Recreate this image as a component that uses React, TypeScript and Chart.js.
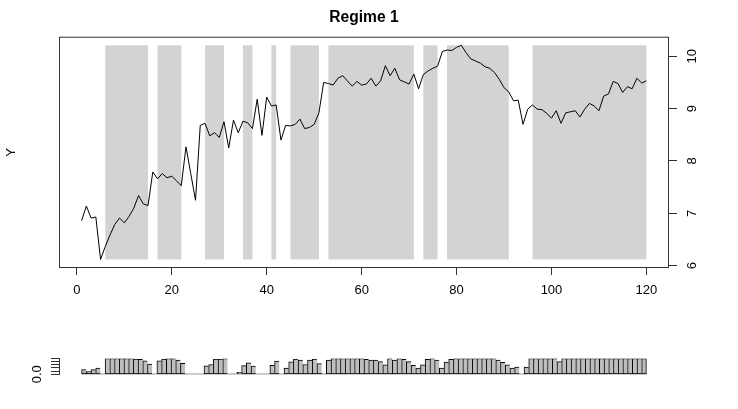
import React, { useEffect, useRef } from 'react';
import { Chart, registerables } from 'chart.js';

Chart.register(...registerables);

const FONT = '"Liberation Sans", Arial, Helvetica, sans-serif';

// ---- data ----
const seriesY = [
  6.86, 7.14, 6.91, 6.93, 6.12, 6.37, 6.59, 6.79, 6.91, 6.82,
  6.94, 7.10, 7.34, 7.18, 7.15, 7.79, 7.66, 7.76, 7.68, 7.71,
  7.62, 7.53, 8.27, 7.76, 7.25, 8.68, 8.72, 8.48, 8.54, 8.45,
  8.75, 8.25, 8.78, 8.54, 8.76, 8.73, 8.62, 9.18, 8.49, 9.22,
  9.05, 9.07, 8.40, 8.68, 8.67, 8.70, 8.80, 8.62, 8.64, 8.70,
  8.92, 9.50, 9.48, 9.45, 9.58, 9.63, 9.53, 9.43, 9.52, 9.45,
  9.47, 9.58, 9.43, 9.53, 9.82, 9.63, 9.77, 9.55, 9.51, 9.47,
  9.66, 9.38, 9.65, 9.72, 9.77, 9.81, 10.09, 10.12, 10.11, 10.17,
  10.21, 10.07, 9.95, 9.91, 9.87, 9.80, 9.77, 9.69, 9.56, 9.40,
  9.32, 9.15, 9.16, 8.70, 8.99, 9.07, 8.99, 8.98, 8.91, 8.82,
  8.96, 8.72, 8.92, 8.94, 8.96, 8.84, 8.99, 9.10, 9.05, 8.96,
  9.24, 9.28, 9.52, 9.48, 9.31, 9.42, 9.38, 9.58, 9.49, 9.53,
];

const regimeProb = [
  0.30, 0.17, 0.30, 0.40, 0.00, 1.00, 1.00, 1.00, 1.00, 1.00,
  1.00, 0.97, 0.95, 0.85, 0.65, 0.00, 0.85, 0.97, 1.00, 1.00,
  0.90, 0.70, 0.00, 0.00, 0.00, 0.00, 0.53, 0.62, 0.96, 0.96,
  1.00, 0.00, 0.00, 0.12, 0.55, 0.72, 0.52, 0.00, 0.00, 0.00,
  0.57, 0.83, 0.00, 0.40, 0.79, 0.96, 0.90, 0.62, 0.90, 0.96,
  0.68, 0.05, 0.90, 1.00, 1.00, 1.00, 1.00, 1.00, 1.00, 1.00,
  0.95, 0.90, 0.90, 0.80, 0.60, 1.00, 0.90, 1.00, 0.95, 0.80,
  0.57, 0.40, 0.60, 0.95, 1.00, 0.90, 0.40, 0.78, 0.95, 1.00,
  1.00, 1.00, 1.00, 1.00, 1.00, 1.00, 1.00, 1.00, 0.90, 0.75,
  0.60, 0.40, 0.45, 0.00, 0.45, 1.00, 1.00, 1.00, 1.00, 1.00,
  1.00, 0.80, 1.00, 1.00, 1.00, 1.00, 1.00, 1.00, 1.00, 1.00,
  1.00, 1.00, 1.00, 1.00, 1.00, 1.00, 1.00, 1.00, 1.00, 1.00,
];

const regimeStart = [6, 17, 27, 35, 41, 45, 53, 73, 78, 96];
const regimeEnd = [15, 22, 31, 37, 42, 51, 71, 76, 91, 120];

const xTicks = [0, 20, 40, 60, 80, 100, 120];
const yTicks = [6, 7, 8, 9, 10];
const probTicks = [0, 0.2, 0.4, 0.6, 0.8, 1.0];
const probTickLabels = ['0.0', '', '', '', '', ''];

const N = seriesY.length;
const timeIndex = seriesY.map((_, i) => i + 1);

const W = 738;
const MAIN_H = 310;
const SUB_H = 99;

const shadePlugin = {
  id: 'shade',
  beforeDatasetsDraw(chart: any) {
    const { ctx, scales } = chart;
    const x = scales.x;
    const y = scales.y;
    const lo = Math.min(...seriesY);
    const hi = Math.max(...seriesY);
    const yTop = y.getPixelForValue(hi);
    const yBot = y.getPixelForValue(lo);
    ctx.save();
    ctx.fillStyle = '#d3d3d3';
    regimeStart.forEach((s, k) => {
      const x0 = x.getPixelForValue(s);
      const x1 = x.getPixelForValue(regimeEnd[k]);
      ctx.fillRect(x0, yTop, x1 - x0, yBot - yTop);
    });
    ctx.restore();
  },
};

const framePlugin = {
  id: 'frame',
  afterDraw(chart: any) {
    const { ctx, chartArea } = chart;
    const { left, top, right, bottom } = chartArea;
    ctx.save();
    ctx.strokeStyle = '#333';
    ctx.lineWidth = 1;
    ctx.strokeRect(left + 0.5, top + 0.5, right - left - 1, bottom - top - 1);
    ctx.restore();
  },
};

function MainChart() {
  const ref = useRef<HTMLCanvasElement>(null);
  useEffect(() => {
    if (!ref.current) return;
    const lo = Math.min(...seriesY);
    const hi = Math.max(...seriesY);
    const yPad = (hi - lo) * 0.04;
    const xPad = (N - 1) * 0.04;
    const chart = new Chart(ref.current, {
      type: 'line',
      data: {
        datasets: [
          {
            data: timeIndex.map((t, i) => ({ x: t, y: seriesY[i] })),
            borderColor: '#000',
            borderWidth: 1,
            pointRadius: 0,
            tension: 0,
            xAxisID: 'x',
            yAxisID: 'y',
          },
        ],
      },
      options: {
        animation: false,
        responsive: false,
        devicePixelRatio: 1,
        layout: { padding: { left: 0, right: 0, top: 0, bottom: 0 } },
        plugins: {
          legend: { display: false },
          tooltip: { enabled: false },
          title: {
            display: true,
            fullSize: false,
            text: 'Regime 1',
            color: '#000',
            font: { family: FONT, size: 15.6, weight: 'bold' },
            padding: { top: 8.5, bottom: 9.5 },
          },
        },
        scales: {
          x: {
            type: 'linear',
            position: 'bottom',
            min: 1 - xPad,
            max: N + xPad,
            afterBuildTicks: (s: any) => {
              s.ticks = xTicks.map((v) => ({ value: v }));
            },
            ticks: {
              font: { family: FONT, size: 13 },
              color: '#000',
              padding: 8,
              maxRotation: 0,
              autoSkip: false,
              callback: (v: any) => String(v),
            },
            grid: { display: true, drawOnChartArea: false, drawTicks: true, tickLength: 7, color: '#333' },
            border: { display: false },
            afterFit: (s: any) => {
              s.height = MAIN_H - 268;
            },
          },
          y: {
            type: 'linear',
            position: 'right',
            min: lo - yPad,
            max: hi + yPad,
            afterBuildTicks: (s: any) => {
              s.ticks = yTicks.map((v) => ({ value: v }));
            },
            ticks: {
              font: { family: FONT, size: 13 },
              color: '#000',
              padding: 8,
              minRotation: 90,
              maxRotation: 90,
              crossAlign: 'center',
              autoSkip: false,
              callback: (v: any) => String(v),
            },
            grid: { display: true, drawOnChartArea: false, drawTicks: true, tickLength: 8, color: '#333' },
            border: { display: false },
            afterFit: (s: any) => {
              s.width = W - 669;
            },
          },
          yl: {
            type: 'linear',
            position: 'left',
            display: true,
            ticks: { display: false },
            grid: { display: false, drawTicks: false },
            border: { display: false },
            title: {
              display: true,
              text: 'Y',
              color: '#000',
              font: { family: FONT, size: 13 },
              padding: { top: 4, bottom: 0 },
            },
            afterFit: (s: any) => {
              s.width = 59;
            },
          },
        },
      } as any,
      plugins: [shadePlugin, framePlugin],
    });
    return () => chart.destroy();
  }, []);
  return <canvas ref={ref} width={W} height={MAIN_H} style={{ display: 'block', width: W, height: MAIN_H }} />;
}

function ProbChart() {
  const ref = useRef<HTMLCanvasElement>(null);
  useEffect(() => {
    if (!ref.current) return;
    const xPad = N * 0.04;
    const chart = new Chart(ref.current, {
      type: 'bar',
      data: {
        datasets: [
          {
            type: 'bar',
            data: regimeProb.map((p, i) => ({ x: timeIndex[i] - 0.5, y: p })),
            backgroundColor: '#bebebe',
            borderColor: '#000',
            borderWidth: (c: any) =>
              c.dataIndex === N - 1
                ? { top: 1, left: 1, right: 1, bottom: 1 }
                : { top: 1, left: 1, right: 0, bottom: 1 },
            borderSkipped: false,
            categoryPercentage: 1,
            barPercentage: 1,
          },
          {
            type: 'line',
            data: [
              { x: 0, y: 0 },
              { x: N, y: 0 },
            ],
            borderColor: '#000',
            borderWidth: 1,
            pointRadius: 0,
          },
        ],
      },
      options: {
        animation: false,
        responsive: false,
        devicePixelRatio: 1,
        layout: { padding: { left: 0, right: W - 669, top: 48.5, bottom: SUB_H - 64.3 } },
        plugins: { legend: { display: false }, tooltip: { enabled: false } },
        scales: {
          x: {
            type: 'linear',
            min: -xPad,
            max: N + xPad,
            offset: false,
            grid: { offset: false },
            display: false,
          },
          y: {
            type: 'linear',
            position: 'left',
            min: 0,
            max: 1,
            afterBuildTicks: (s: any) => {
              s.ticks = probTicks.map((v) => ({ value: v }));
            },
            ticks: {
              font: { family: FONT, size: 13 },
              color: '#000',
              padding: 4.5,
              minRotation: 90,
              maxRotation: 90,
              crossAlign: 'center',
              autoSkip: false,
              callback: (_v: any, i: number) => probTickLabels[i],
            },
            grid: { display: true, drawOnChartArea: false, drawTicks: true, tickLength: 8, color: '#333' },
            border: { display: true, color: '#333' },
            afterFit: (s: any) => {
              s.width = 59;
            },
          },
        },
      } as any,
    });
    return () => chart.destroy();
  }, []);
  return <canvas ref={ref} width={W} height={SUB_H} style={{ display: 'block', width: W, height: SUB_H }} />;
}

export default function App() {
  return (
    <div style={{ position: 'absolute', left: 0, top: 0, width: W, height: MAIN_H + SUB_H, background: '#fff' }}>
      <MainChart />
      <ProbChart />
    </div>
  );
}
